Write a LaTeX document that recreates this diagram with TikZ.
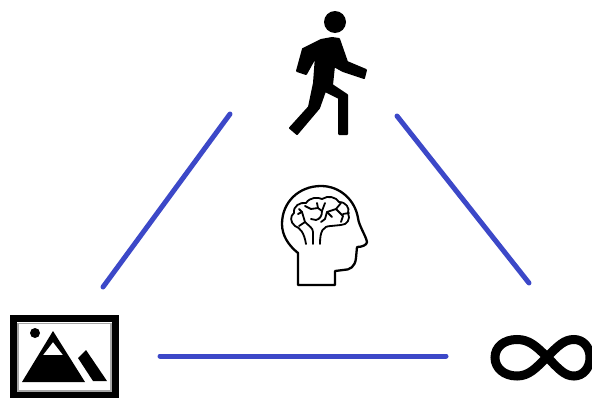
\documentclass[tikz,border=0pt]{standalone}
\begin{document}
\begin{tikzpicture}[x=1pt,y=-1pt,
  link/.style={draw=linkblue,line width=5pt,line cap=round},
  outline/.style={draw=black,line width=2.3pt,line join=round,line cap=round,fill=none},
  thin brain/.style={draw=black,line width=1.8pt,line cap=round,line join=round,fill=none}]
\definecolor{linkblue}{RGB}{60,72,200}
\useasboundingbox (0,0) rectangle (592,399);
% connector end points
\coordinate (walkL) at (230,114);
\coordinate (imgT) at (103,287);
\coordinate (walkR) at (397,116);
\coordinate (infT) at (529,283);
\coordinate (imgR) at (160,356);
\coordinate (infL) at (446,356);
\draw[link] (walkL) -- (imgT);
\draw[link] (walkR) -- (infT);
\draw[link] (imgR) -- (infL);
% walker
\fill (335,22) circle (11);
\filldraw[line width=2pt,line join=round] (321,40) -- (332,38) -- (339,39) -- (347,62) -- (366,70) -- (364,78) -- (343,71) -- (334,66) -- (332,85) -- (347,95) -- (347,134) -- (339,134) -- (339,98) -- (325,91) -- (319,108) -- (297,134) -- (290,128) -- (309,107) -- (314,83) -- (316,56) -- (306,74) -- (297,71) -- (303,49) -- cycle;
% head
\draw[outline] (298,285) -- (298,253) .. controls (288,245) and (282,235) .. (282,224)
  .. controls (282,202) and (299,186) .. (321,186)
  .. controls (340,186) and (355,200) .. (358,218)
  .. controls (359,226) and (366,236) .. (367,242)
  .. controls (367,245) and (362,247) .. (357,247)
  -- (356,258) .. controls (355,267) and (350,270) .. (343,270)
  -- (335,271) -- (335,285) -- cycle;
% brain
\draw[thin brain] (306,244) .. controls (304,232) and (300,228) .. (295,226)
  .. controls (290,222) and (290,216) .. (294,213)
  .. controls (293,206) and (300,202) .. (306,203)
  .. controls (310,197) and (318,197) .. (322,199)
  .. controls (328,195) and (336,197) .. (339,202)
  .. controls (346,202) and (350,208) .. (348,213)
  .. controls (351,219) and (347,225) .. (341,225)
  -- (331,226) .. controls (323,226) and (320,231) .. (320,244);
\draw[thin brain] (313,244) -- (313,232) .. controls (313,228) and (309,226) .. (305,222) -- (302,212) -- (299,209);
\draw[thin brain] (305,222) -- (299,226);
\draw[thin brain] (302,212) -- (298,214);
\draw[thin brain] (305,206) -- (311,209) -- (318,208) -- (322,211) .. controls (322,216) and (320,219) .. (316,220) -- (311,219);
\draw[thin brain] (318,208) -- (317,203);
\draw[thin brain] (322,211) -- (325,203);
\draw[thin brain] (325,219) -- (327,212) -- (336,209) -- (341,203);
\draw[thin brain] (336,209) -- (343,216) -- (341,222);
\draw[thin brain] (343,214) -- (349,213);
\draw[thin brain] (327,212) -- (332,217);
\draw[thin brain] (325,219) -- (321,222);
% picture frame
\draw[line width=7pt] (13.5,318.5) rectangle (115.5,394.5);
\draw[gray!70,line width=1.5pt] (18,323.5) rectangle (111,391);
\fill (35,333) circle (5);
\fill[even odd rule] (53,331) -- (85,382) -- (22,382) -- cycle (53,342) -- (43,355) -- (63,355) -- cycle;
\fill (86,350) -- (107,381) -- (93,381) -- (78,358) -- cycle;
% infinity (clipped at the picture edge)
\begin{scope}
\clip (0,0) rectangle (592,399);
\draw[line width=9pt] (547,357) .. controls (536,346) and (529,339.5) .. (517,339.5)
  .. controls (504,339.5) and (495,347) .. (495,357.5)
  .. controls (495,368) and (504,376) .. (517,376)
  .. controls (529,376) and (536,368) .. (547,357)
  .. controls (558,346) and (564,339.5) .. (574,339.5)
  .. controls (583,339.5) and (590,347) .. (590,357.5)
  .. controls (590,368) and (583,376) .. (574,376)
  .. controls (564,376) and (558,368) .. (547,357) -- cycle;
\end{scope}
\end{tikzpicture}
\end{document}
